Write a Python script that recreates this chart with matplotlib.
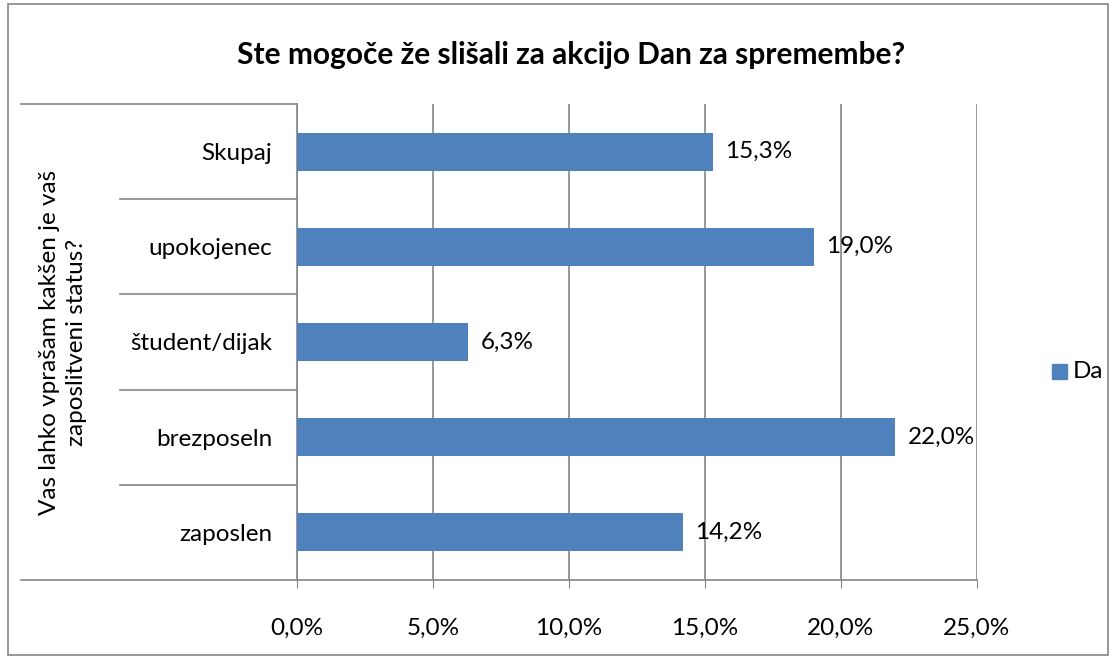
import matplotlib.pyplot as plt
from matplotlib.patches import Rectangle
from matplotlib.lines import Line2D

categories = ['zaposlen', 'brezposeln', 'študent/dijak', 'upokojenec', 'Skupaj']
values = [14.2, 22.0, 6.3, 19.0, 15.3]
xticks = [0, 5, 10, 15, 20, 25]
xticklabels = ['0,0%', '5,0%', '10,0%', '15,0%', '20,0%', '25,0%']
series_name = 'Da'
title = 'Ste mogoče že slišali za akcijo Dan za spremembe?'
ylabel = 'Vas lahko vprašam kakšen je vaš\nzaposlitveni status?'

bar_color = '#4F81BD'
grid_color = '#868686'
W, H = 1118, 660
fs = 17.5

plt.rcParams['font.family'] = ['Lato', 'DejaVu Sans']

fig = plt.figure(figsize=(W / 100, H / 100), dpi=100)
ax = fig.add_axes([297 / W, 1 - 580 / H, 680 / W, 476 / H])

pos = list(range(len(categories)))
ax.barh(pos, values, height=0.4, color=bar_color, zorder=3)
ax.set_xlim(0, 25)
ax.set_ylim(-0.5, len(categories) - 0.5)

# data labels
for p, v in zip(pos, values):
    ax.text(v + 0.45, p, ('%.1f%%' % v).replace('.', ','), va='center', ha='left',
            fontsize=fs, color='black', zorder=4)

ax.set_xticks(xticks)
ax.set_xticklabels(xticklabels, fontsize=fs)
ax.set_yticks(pos)
ax.set_yticklabels(categories, fontsize=fs)
ax.tick_params(axis='x', length=6, color=grid_color, pad=21)
ax.tick_params(axis='y', length=0, pad=18)
ax.grid(axis='x', color=grid_color, linewidth=1.2, zorder=0)

for s in ['top', 'right']:
    ax.spines[s].set_visible(False)
for s in ['left', 'bottom']:
    ax.spines[s].set_color(grid_color)
    ax.spines[s].set_linewidth(1.2)

# category separator lines to the left of the axis
ax_left = 297 / W
for i in range(len(categories) + 1):
    y = 1 - (580 - i * 476 / len(categories)) / H
    x0 = 21 / W if i in (0, len(categories)) else 120 / W
    fig.add_artist(Line2D([x0, ax_left], [y, y], color=grid_color, linewidth=1.2))

fig.text(63 / W, 1 - 342 / H, ylabel, rotation=90, ha='center', va='center',
         fontsize=fs, linespacing=1.4)

fig.text(571 / W, 1 - 55 / H, title, ha='center', va='center',
         fontsize=21.5, fontweight='bold')

# legend
fig.add_artist(Rectangle((1052 / W, 1 - 379 / H), 15 / W, 15 / H, color=bar_color))
fig.text(1073 / W, 1 - 371 / H, series_name, ha='left', va='center', fontsize=fs)

# chart border
fig.add_artist(Rectangle((8 / W, 1 - 655 / H), 1100 / W, 651 / H, fill=False,
                         edgecolor=grid_color, linewidth=1.2))

fig.savefig('out.png', dpi=100)
